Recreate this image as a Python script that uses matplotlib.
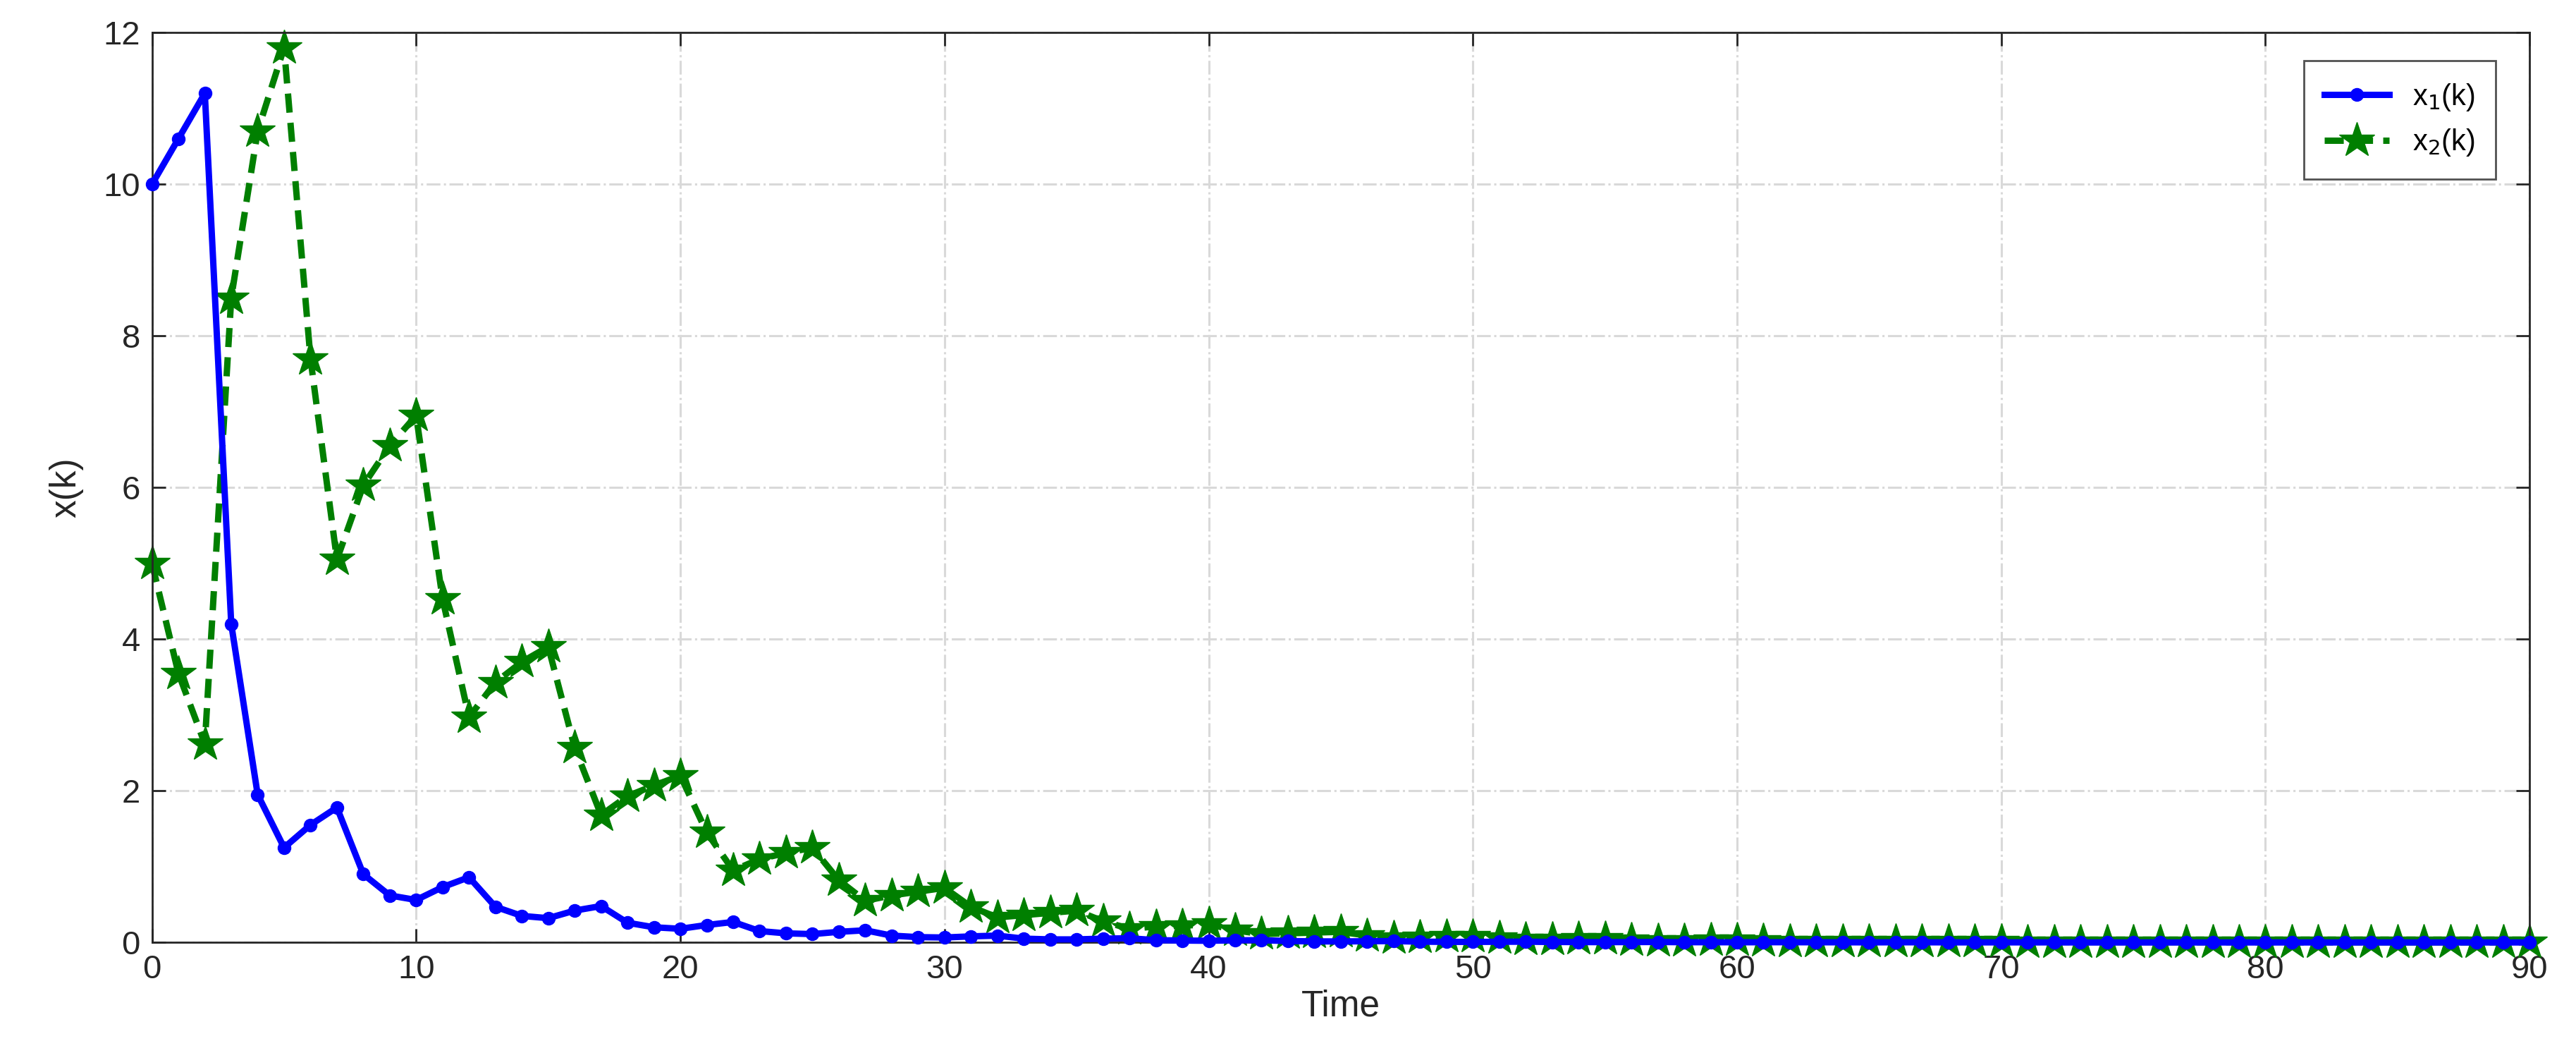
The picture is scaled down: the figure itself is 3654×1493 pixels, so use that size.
import matplotlib
matplotlib.use("Agg")
import matplotlib.pyplot as plt
import numpy as np

plt.rcParams['font.family'] = ['Liberation Sans', 'DejaVu Sans']

# data
k = np.arange(0, 91)
x1 = [10.0, 10.6, 11.2, 4.2, 1.95, 1.25, 1.55, 1.78, 0.9, 0.62,
      0.56, 0.73, 0.86, 0.47, 0.35, 0.32, 0.42, 0.48, 0.26, 0.2,
      0.18, 0.23, 0.27, 0.15, 0.12, 0.11, 0.14, 0.16, 0.09, 0.07,
      0.065, 0.08, 0.09, 0.05, 0.04, 0.04, 0.05, 0.055, 0.03, 0.025,
      0.022, 0.028, 0.03, 0.018, 0.014, 0.013, 0.016, 0.018, 0.01, 0.008,
      0.007, 0.009, 0.01, 0.006, 0.005, 0.004, 0.005, 0.006, 0.003, 0.003,
      0.002, 0.003, 0.003, 0.002, 0.002, 0.001, 0.002, 0.002, 0.001, 0.001,
      0.001, 0.001, 0.001, 0.0, 0.0, 0.0, 0.0, 0.0, 0.0, 0.0,
      0.0, 0.0, 0.0, 0.0, 0.0, 0.0, 0.0, 0.0, 0.0, 0.0, 0.0]
x2 = [5.0, 3.55, 2.62, 8.5, 10.7, 11.8, 7.7, 5.05, 6.03, 6.55,
      6.95, 4.53, 2.97, 3.43, 3.7, 3.9, 2.57, 1.68, 1.93, 2.07,
      2.2, 1.45, 0.95, 1.1, 1.18, 1.25, 0.82, 0.55, 0.62, 0.67,
      0.72, 0.47, 0.33, 0.36, 0.39, 0.42, 0.28, 0.18, 0.21, 0.22,
      0.24, 0.16, 0.11, 0.12, 0.13, 0.14, 0.09, 0.06, 0.07, 0.075,
      0.08, 0.055, 0.04, 0.042, 0.045, 0.048, 0.032, 0.022, 0.025, 0.027,
      0.028, 0.019, 0.013, 0.014, 0.015, 0.016, 0.011, 0.008, 0.008, 0.009,
      0.009, 0.006, 0.005, 0.005, 0.005, 0.005, 0.004, 0.003, 0.003, 0.003,
      0.003, 0.002, 0.002, 0.002, 0.002, 0.002, 0.001, 0.001, 0.001, 0.001, 0.001]

fig = plt.figure(figsize=(36.54, 14.93), dpi=100)
ax = fig.add_axes([0.059, 0.105, 0.923, 0.864])

ax.plot(k, x1, '-o', color='#0000ff', lw=6.5, ms=13, label='x$_1$(k)', zorder=3, clip_on=False)
ax.plot(k, x2, '--*', color='#007f00', lw=6.5, ms=38, dashes=(3, 1.6), label='x$_2$(k)',
        zorder=2, clip_on=False)

ax.set_xlim(0, 90)
ax.set_ylim(0, 12)
ax.set_xticks(np.arange(0, 91, 10))
ax.set_yticks(np.arange(0, 13, 2))
ax.grid(True, linestyle='-.', color='#d9d9d9', lw=2.2)
ax.tick_params(labelsize=34, length=14, width=2, direction='in', top=True, right=True, colors='#262626', pad=12)
for s in ax.spines.values():
    s.set_linewidth(2)
    s.set_color('#262626')
ax.set_xlabel('Time', fontsize=37, color='#262626', labelpad=4)
ax.set_ylabel('x(k)', fontsize=37, color='#262626', labelpad=20)

leg = ax.legend(loc='upper right', fontsize=30, fancybox=False, edgecolor='#262626',
                handlelength=2.2, borderpad=0.7, bbox_to_anchor=(0.992, 0.985))
leg.get_frame().set_linewidth(2)

fig.savefig('out.png', dpi=100)
